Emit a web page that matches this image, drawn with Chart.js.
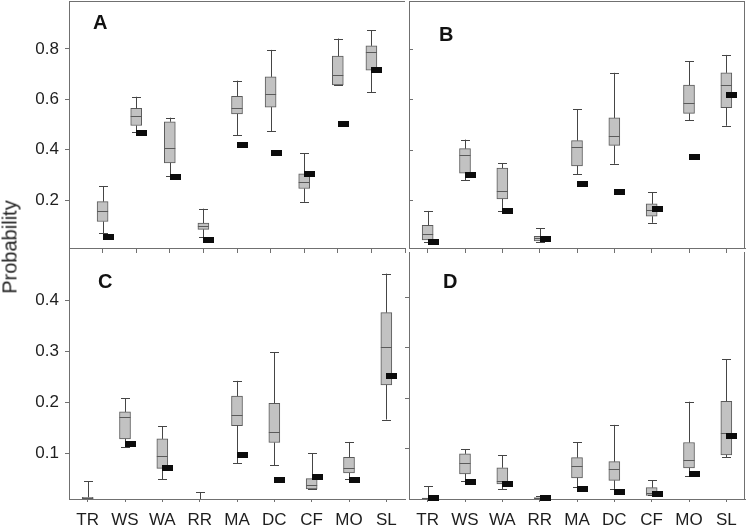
<!DOCTYPE html>
<html><head><meta charset="utf-8">
<script src="https://cdn.jsdelivr.net/npm/chart.js@4.4.1/dist/chart.umd.min.js"></script>
<style>
html,body{margin:0;padding:0;background:#fff;}
#wrap{position:relative;width:747px;height:529px;overflow:hidden;background:#fff;}
#wrap canvas{position:absolute;left:0;top:0;}
#ylab{position:absolute;left:10px;top:247px;transform:translate(-50%,-50%) rotate(-90deg);font:20px "Liberation Sans",Arial,sans-serif;color:#222;white-space:nowrap;}
</style></head><body>
<div id="wrap">
<canvas id="cA" width="747" height="529"></canvas>
<canvas id="cB" width="747" height="529"></canvas>
<canvas id="cC" width="747" height="529"></canvas>
<canvas id="cD" width="747" height="529"></canvas>
<div id="ylab">Probability</div>
</div>
<script>
const categories = ['TR','WS','WA','RR','MA','DC','CF','MO','SL'];
const yTicksTop = [0.2, 0.4, 0.6, 0.8];
const yTicksBottom = [0.1, 0.2, 0.3, 0.4];

// Panel A
const aHigh = [0.256, 0.61, 0.527, 0.166, 0.674, 0.796, 0.385, 0.841, 0.873];
const aQ3   = [0.194, 0.564, 0.511, 0.109, 0.612, 0.689, 0.304, 0.771, 0.812];
const aMed  = [0.158, 0.532, 0.405, 0.097, 0.565, 0.62, 0.27, 0.697, 0.788];
const aQ1   = [0.115, 0.496, 0.348, 0.084, 0.542, 0.569, 0.246, 0.657, 0.716];
const aLow  = [0.068, 0.469, 0.296, 0.052, 0.457, 0.473, 0.193, 0.657, 0.629];
const aMark = [0.054, 0.467, 0.291, 0.04, 0.418, 0.386, 0.304, 0.502, 0.716];

// Panel B
const bHigh = [0.157, 0.44, 0.347, 0.088, 0.561, 0.705, 0.231, 0.75, 0.776];
const bQ3   = [0.10, 0.404, 0.327, 0.056, 0.436, 0.526, 0.185, 0.656, 0.705];
const bMed  = [0.064, 0.379, 0.237, 0.048, 0.412, 0.453, 0.161, 0.587, 0.656];
const bQ1   = [0.042, 0.307, 0.205, 0.038, 0.336, 0.417, 0.136, 0.544, 0.567];
const bLow  = [0.033, 0.279, 0.157, 0.033, 0.302, 0.344, 0.11, 0.516, 0.495];
const bMark = [0.034, 0.30, 0.157, 0.045, 0.262, 0.233, 0.164, 0.372, 0.616];

// Panel C
const cHigh = [0.045, 0.208, 0.153, 0.023, 0.242, 0.298, 0.1, 0.122, 0.4525];
const cQ3   = [0.0134, 0.181, 0.128, 0.006, 0.212, 0.198, 0.05, 0.092, 0.376];
const cMed  = [0.011, 0.171, 0.095, 0.005, 0.175, 0.141, 0.038, 0.07, 0.309];
const cQ1   = [0.01, 0.128, 0.07, 0.004, 0.154, 0.121, 0.03, 0.061, 0.234];
const cLow  = [0.01, 0.113, 0.049, 0.004, 0.08, 0.076, 0.03, 0.049, 0.166];
const cMark = [null, 0.118, 0.07, null, 0.097, 0.047, 0.054, 0.047, 0.251];

// Panel D
const dHigh = [0.025, 0.099, 0.087, 0.006, 0.113, 0.147, 0.037, 0.193, 0.277];
const dQ3   = [0.002, 0.0896, 0.062, 0.003, 0.082, 0.074, 0.0225, 0.112, 0.194];
const dMed  = [0.001, 0.072, 0.036, 0.002, 0.066, 0.06, 0.0126, 0.078, 0.131];
const dQ1   = [0.0, 0.05, 0.03, 0.001, 0.042, 0.037, 0.0073, 0.0617, 0.0876];
const dLow  = [0.0, 0.036, 0.019, 0.001, 0.024, 0.02, 0.007, 0.0458, 0.083];
const dMark = [0.001, 0.033, 0.03, 0.001, 0.02, 0.013, 0.01, 0.05, 0.124];

const FRAME = '#707070';
const BOX_FILL = '#c2c2c2';
const BOX_EDGE = '#5a5a5a';
const WHISK = '#454545';
const MARK = '#0c0c0c';
const TXT = '#1e1e1e';
const FONT = '"Liberation Sans", Arial, sans-serif';

const panels = [
  {id:'cA', letter:'A', lp:[93,29], high:aHigh, q3:aQ3, med:aMed, q1:aQ1, low:aLow, mark:aMark,
   yMin:0.01, yMax:0.99, yTicks:yTicksTop, yLabels:true, xLabels:false, pad:true,
   area:{l:69,t:1,r:405,b:248}, yW:69, xH:6, xTick:5, yTickOut:4, yTickIn:false, top:true, right:false},
  {id:'cB', letter:'B', lp:[439,41], high:bHigh, q3:bQ3, med:bMed, q1:bQ1, low:bLow, mark:bMark,
   yMin:0.01, yMax:0.99, yTicks:yTicksTop, yLabels:false, xLabels:false, pad:false,
   area:{l:409,t:1,r:745,b:248}, yW:0, xH:6, xTick:5, yTickOut:0, yTickIn:true, top:true, right:true},
  {id:'cC', letter:'C', lp:[98,288], high:cHigh, q3:cQ3, med:cMed, q1:cQ1, low:cLow, mark:cMark,
   yMin:0.01, yMax:0.495, yTicks:yTicksBottom, yLabels:true, xLabels:true, pad:false,
   area:{l:69,t:252,r:405,b:499}, yW:69, xH:30, xTick:3, yTickOut:4, yTickIn:false, top:false, right:false},
  {id:'cD', letter:'D', lp:[443,288], high:dHigh, q3:dQ3, med:dMed, q1:dQ1, low:dLow, mark:dMark,
   yMin:0.0, yMax:0.49, yTicks:yTicksBottom, yLabels:false, xLabels:true, pad:false,
   area:{l:409,t:252,r:745,b:499}, yW:4, xH:30, xTick:3, yTickOut:4, yTickIn:false, top:false, right:true}
];

function makePlugin(p) {
  return {
    id: 'boxExtras' + p.letter,
    afterDatasetsDraw(chart) {
      const ctx = chart.ctx, ca = chart.chartArea;
      const xs = chart.scales.x, ys = chart.scales.y;
      const off = p.pad ? 1 : 0;
      ctx.save();
      ctx.beginPath();
      ctx.rect(ca.left, ca.top, ca.right - ca.left, ca.bottom - ca.top);
      ctx.clip();
      ctx.lineWidth = 1;
      for (let i = 0; i < categories.length; i++) {
        const cx = xs.getPixelForValue(i + off);
        const xl = Math.round(cx) + 0.5;
        const yHi = ys.getPixelForValue(p.high[i]);
        const yQ3 = ys.getPixelForValue(p.q3[i]);
        const yQ1 = ys.getPixelForValue(p.q1[i]);
        const yLo = ys.getPixelForValue(p.low[i]);
        const yMd = Math.round(ys.getPixelForValue(p.med[i])) + 0.5;
        ctx.strokeStyle = WHISK;
        ctx.beginPath();
        ctx.moveTo(xl, yQ3); ctx.lineTo(xl, yHi);
        ctx.moveTo(xl, yQ1); ctx.lineTo(xl, yLo);
        const yh = Math.round(yHi) + 0.5, yl = Math.round(yLo) + 0.5;
        ctx.moveTo(xl - 4.5, yh); ctx.lineTo(xl + 4.5, yh);
        ctx.moveTo(xl - 4.5, yl); ctx.lineTo(xl + 4.5, yl);
        ctx.stroke();
        ctx.strokeStyle = BOX_EDGE;
        ctx.beginPath();
        ctx.moveTo(cx - 5.5, yMd); ctx.lineTo(cx + 5.5, yMd);
        ctx.stroke();
      }
      ctx.restore();
      ctx.save();
      ctx.fillStyle = MARK;
      for (let i = 0; i < categories.length; i++) {
        if (p.mark[i] === null) continue;
        const cx = Math.round(xs.getPixelForValue(i + off));
        const y = ys.getPixelForValue(p.mark[i]);
        ctx.fillRect(cx, Math.round(y - 3), 11, 6);
      }
      ctx.strokeStyle = FRAME;
      ctx.lineWidth = 1;
      ctx.beginPath();
      if (p.top) { ctx.moveTo(ca.left, ca.top + 0.5); ctx.lineTo(ca.right, ca.top + 0.5); }
      if (p.right) { ctx.moveTo(ca.right - 0.5, ca.top); ctx.lineTo(ca.right - 0.5, ca.bottom); }
      if (p.yTickIn) {
        p.yTicks.forEach(v => {
          const y = Math.round(ys.getPixelForValue(v)) + 0.5;
          ctx.moveTo(ca.left, y); ctx.lineTo(ca.left + 4, y);
        });
      }
      ctx.stroke();
      ctx.fillStyle = '#111';
      ctx.font = 'bold 20px ' + FONT;
      ctx.textAlign = 'left';
      ctx.textBaseline = 'alphabetic';
      ctx.fillText(p.letter, p.lp[0], p.lp[1]);
      ctx.restore();
    }
  };
}

function buildChart(p) {
  const labels = p.pad ? [''].concat(categories, ['']) : categories.slice();
  const boxes = p.q1.map((v, i) => [v, p.q3[i]]);
  const data = p.pad ? [null].concat(boxes, [null]) : boxes;
  return new Chart(document.getElementById(p.id), {
    type: 'bar',
    data: { labels, datasets: [{ data, backgroundColor: BOX_FILL, borderColor: BOX_EDGE, borderWidth: 1,
      borderSkipped: false, barThickness: 11, clip: 0 }] },
    options: {
      responsive: false, animation: false, devicePixelRatio: 1,
      layout: { padding: { left: p.area.l - p.yW, top: p.area.t, right: 747 - p.area.r, bottom: 529 - p.area.b - p.xH } },
      plugins: { legend: { display: false }, tooltip: { enabled: false } },
      scales: {
        x: {
          type: 'category', offset: !p.pad,
          grid: { display: true, offset: false, drawOnChartArea: false, drawTicks: true, tickLength: p.xTick, color: FRAME },
          border: { display: true, color: FRAME, width: 1 },
          ticks: { display: p.xLabels, autoSkip: false, maxRotation: 0, font: { family: FONT, size: 17 }, color: TXT, padding: 8 },
          afterFit(s) { s.height = p.xH; s.paddingLeft = 0; s.paddingRight = 0; }
        },
        y: {
          type: 'linear', min: p.yMin, max: p.yMax, bounds: 'data',
          grid: { display: true, drawOnChartArea: false, drawTicks: p.yTickOut > 0, tickLength: p.yTickOut || 1, color: FRAME },
          border: { display: true, color: FRAME, width: 1 },
          ticks: { display: p.yLabels, font: { family: FONT, size: 17 }, color: TXT, padding: 6,
            callback: v => Number(v).toFixed(1) },
          afterBuildTicks(s) { s.ticks = p.yTicks.map(v => ({ value: v })); },
          afterFit(s) { s.width = p.yW; s.paddingTop = 0; s.paddingBottom = 0; }
        }
      }
    },
    plugins: [makePlugin(p)]
  });
}

panels.forEach(buildChart);
</script>
</body></html>
